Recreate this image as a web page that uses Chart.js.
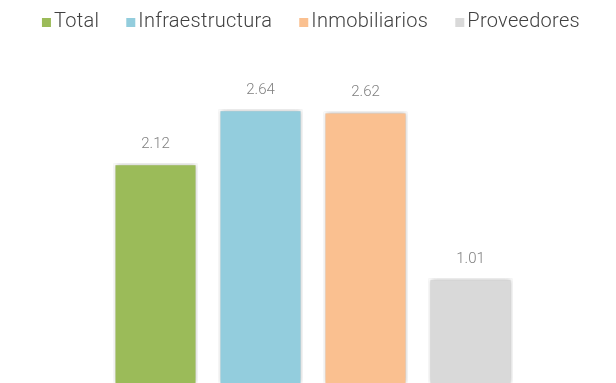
<!DOCTYPE html>
<html>
<head>
<meta charset="utf-8">
<script src="https://cdn.jsdelivr.net/npm/chart.js@4"></script>
<style>
    html, body { margin: 0; padding: 0; background: #ffffff; }
    #wrap { width: 616px; height: 383px; }
</style>
</head>
<body>
<div id="wrap"><canvas id="ratioChart"></canvas></div>
<script>
const seriesNames = ['Total', 'Infraestructura', 'Inmobiliarios', 'Proveedores']
const seriesValues = [2.12, 2.64, 2.62, 1.01]
const seriesColors = ['#9BBB59', '#93CDDD', '#FAC090', '#D9D9D9']

// soft drop shadow behind the bars
const barShadow = {
    id: 'barShadow',
    beforeDatasetsDraw(chart) {
        const ctx = chart.ctx
        ctx.save()
        ctx.shadowColor = 'rgba(0, 0, 0, 0.28)'
        ctx.shadowBlur = 5
        ctx.shadowOffsetX = 0
        ctx.shadowOffsetY = 0
    },
    afterDatasetsDraw(chart) {
        chart.ctx.restore()
    }
}

// value written above each bar
const valueLabels = {
    id: 'valueLabels',
    afterDatasetsDraw(chart) {
        const ctx = chart.ctx
        ctx.save()
        ctx.fillStyle = '#7f7f7f'
        ctx.font = '300 15px Roboto, sans-serif'
        ctx.textAlign = 'center'
        ctx.textBaseline = 'alphabetic'
        chart.data.datasets.forEach((ds, i) => {
            const bar = chart.getDatasetMeta(i).data[0]
            ctx.fillText(ds.data[0].toFixed(2), bar.x, bar.y - 15)
        })
        ctx.restore()
    }
}

// legend row across the top, tighter than the built-in one
const topLegend = {
    id: 'topLegend',
    afterDraw(chart) {
        const ctx = chart.ctx
        const box = 9, gap = 3, spacing = 27, baseline = 27
        ctx.save()
        ctx.font = '300 20px Roboto, sans-serif'
        ctx.letterSpacing = '0.3px'
        ctx.textBaseline = 'alphabetic'
        ctx.textAlign = 'left'
        const items = chart.data.datasets.map(ds => ({
            text: ds.label,
            color: ds.backgroundColor,
            w: box + gap + ctx.measureText(ds.label).width
        }))
        const total = items.reduce((s, it) => s + it.w, 0) + spacing * (items.length - 1)
        let x = 311 - total / 2
        items.forEach(it => {
            ctx.fillStyle = it.color
            ctx.fillRect(x, baseline - box, box, box)
            ctx.fillStyle = '#404040'
            ctx.fillText(it.text, x + box + gap, baseline)
            x += it.w + spacing
        })
        ctx.restore()
    }
}

const datasets = seriesNames.map((name, i) => ({
    label: name,
    data: [seriesValues[i]],
    backgroundColor: seriesColors[i],
    borderColor: '#ffffff',
    borderWidth: 2,
    borderSkipped: 'bottom',
    barPercentage: 0.8,
    categoryPercentage: 420 / 606
}))

new Chart(document.getElementById('ratioChart'), {
    type: 'bar',
    data: {
        labels: [''],
        datasets: datasets
    },
    options: {
        responsive: true,
        maintainAspectRatio: false,
        animation: false,
        layout: {
            padding: { left: 10, right: 0, top: 72, bottom: 0 }
        },
        scales: {
            x: { display: false },
            y: { display: false, min: 0, max: 3 }
        },
        plugins: {
            legend: { display: false },
            tooltip: { enabled: false }
        }
    },
    plugins: [barShadow, valueLabels, topLegend]
})
</script>
</body>
</html>
